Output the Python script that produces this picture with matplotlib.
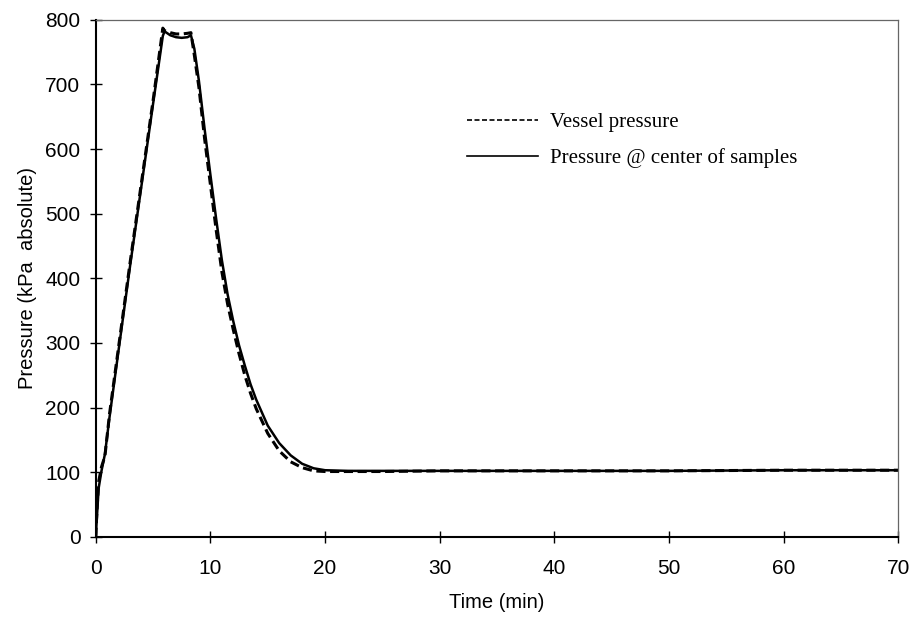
import matplotlib
matplotlib.use("Agg")
import matplotlib.pyplot as plt

# time axis (min) shared by both traces
time_min = [0, 0.1, 0.25, 0.5, 0.8, 1.2, 2.0, 3.0, 4.0, 5.0, 5.85, 6.0, 6.5, 7.0, 7.5,
            8.0, 8.3, 8.6, 9.0, 9.5, 10.0, 10.5, 11.0, 11.5, 12.0, 12.5, 13.0, 13.5,
            14.0, 15.0, 16.0, 17.0, 18.0, 19.0, 20.0, 22.0, 25.0, 30.0, 40.0, 50.0,
            60.0, 70.0]

# vessel pressure (kPa absolute)
vessel_p = [0, 40, 85, 108, 125, 190, 295, 425, 550, 675, 787, 783, 780, 778, 778,
            779, 780, 745, 695, 615, 545, 475, 410, 360, 320, 283, 250, 222,
            198, 160, 133, 116, 107, 102, 101, 101, 101, 102, 102, 102,
            103, 103]

# pressure at the center of the samples (kPa absolute)
center_p = [0, 30, 75, 102, 128, 185, 290, 420, 545, 670, 775, 782, 776, 773, 772,
            773, 776, 755, 705, 630, 560, 492, 428, 375, 333, 296, 265, 236,
            212, 172, 145, 126, 113, 106, 103, 102, 102, 102, 102, 102,
            103, 103]

x_ticks = [0, 10, 20, 30, 40, 50, 60, 70]
y_ticks = [0, 100, 200, 300, 400, 500, 600, 700, 800]

fig = plt.figure(figsize=(9.12, 6.17), dpi=100)
ax = fig.add_axes([0.105, 0.13, 0.880, 0.838])

ax.plot(time_min, vessel_p, color="black", lw=2.2, linestyle=(0, (3, 1.5)),
        label="Vessel pressure")
ax.plot(time_min, center_p, color="black", lw=1.8, label="Pressure @ center of samples")

ax.set_xlim(0, 70)
ax.set_ylim(0, 800)
ax.set_xticks(x_ticks)
ax.set_yticks(y_ticks)

sans = "Liberation Sans"
for lab in ax.get_xticklabels() + ax.get_yticklabels():
    lab.set_family(sans)
    lab.set_fontsize(15)
ax.tick_params(direction="inout", length=8, width=1)
ax.tick_params(axis="x", pad=12)
ax.tick_params(axis="y", pad=7)

ax.set_xlabel("Time (min)", family=sans, fontsize=14.5, labelpad=11)
ax.set_ylabel("Pressure (kPa  absolute)", family=sans, fontsize=14.5, labelpad=6)

for side in ("left", "bottom"):
    ax.spines[side].set_linewidth(1.5)
for side in ("top", "right"):
    ax.spines[side].set_color("#666666")
    ax.spines[side].set_linewidth(0.9)

leg = ax.legend(loc="upper left", bbox_to_anchor=(0.452, 0.836), frameon=False,
                handlelength=3.4, handletextpad=0.6, labelspacing=0.75,
                prop={"family": "Liberation Serif", "size": 15}, borderaxespad=0)
for line in leg.get_lines():
    line.set_linewidth(1.2)

fig.savefig("out.png", dpi=100)
